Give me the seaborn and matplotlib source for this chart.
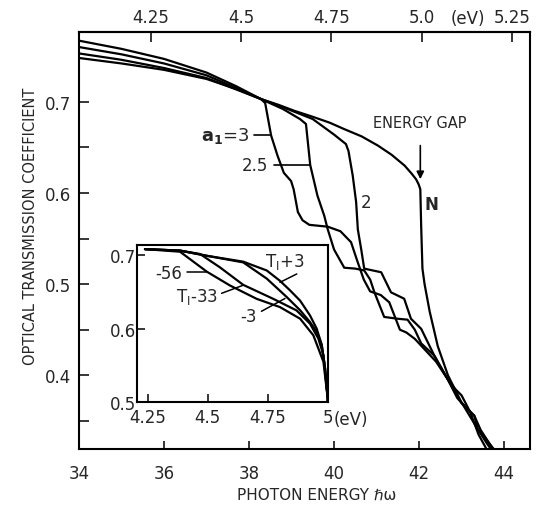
import numpy as np
import pandas as pd
import matplotlib
matplotlib.use("Agg")
import matplotlib.pyplot as plt
import matplotlib.transforms as mtransforms
import seaborn as sns

# ---------------- main panel data (photon energy, transmission) ----------------
x_a3 = [34, 35, 36, 37, 37.7, 38.28, 38.38, 38.52, 38.67, 38.82, 38.99, 39.05, 39.15,
        39.26, 39.42, 39.85, 40.15, 40.4, 40.55, 40.7, 40.85, 41.1, 41.3, 41.45, 41.55,
        41.7, 41.9, 42.1, 42.4, 42.67, 42.85, 43.0, 43.2, 43.4, 43.6, 43.75]
y_a3 = [0.767, 0.758, 0.747, 0.732, 0.717, 0.703, 0.6986, 0.663, 0.641, 0.622, 0.613, 0.604, 0.579,
        0.570, 0.565, 0.563, 0.558, 0.546, 0.525, 0.505, 0.492, 0.488, 0.480, 0.462, 0.450,
        0.447, 0.440, 0.430, 0.415, 0.396, 0.385, 0.378, 0.360, 0.335, 0.318, 0.305]

x_a25 = [34, 35, 36, 37, 37.7, 38.28, 38.8, 39.2, 39.34, 39.44, 39.61, 39.77, 39.85,
         40.0, 40.24, 40.5, 40.71, 40.85, 40.95, 41.18, 41.5, 41.73, 41.9, 42.05, 42.36,
         42.67, 42.9, 43.1, 43.3, 43.45, 43.69, 43.85]
y_a25 = [0.760, 0.752, 0.742, 0.729, 0.715, 0.703, 0.692, 0.681, 0.6756, 0.6306, 0.597, 0.575, 0.5604,
         0.538, 0.518, 0.517, 0.515, 0.505, 0.491, 0.464, 0.462, 0.461, 0.450, 0.435, 0.4215,
         0.396, 0.375, 0.365, 0.3557, 0.340, 0.3228, 0.31]

x_a2 = [34, 35, 36, 37, 37.7, 38.28, 38.8, 39.5, 40.0, 40.28, 40.34, 40.44, 40.52, 40.56,
        40.64, 40.71, 41.11, 41.34, 41.65, 41.81, 42.05, 42.36, 42.67, 42.99, 43.3, 43.38,
        43.6, 43.8, 43.95]
y_a2 = [0.753, 0.746, 0.737, 0.726, 0.7135, 0.703, 0.694, 0.681, 0.664, 0.6536, 0.646, 0.619, 0.590, 0.560,
        0.538, 0.517, 0.513, 0.491, 0.484, 0.462, 0.451, 0.4215, 0.396, 0.370, 0.3557, 0.341,
        0.325, 0.312, 0.305]

x_n = [34, 35, 36, 37, 37.7, 38.28, 38.7, 39.07, 39.5, 39.9, 40.24, 40.65, 41.03, 41.35,
       41.66, 41.82, 41.93, 41.99, 42.03, 42.05, 42.08, 42.13, 42.25, 42.44, 42.68, 42.99,
       43.38, 43.76, 43.95]
y_n = [0.748, 0.742, 0.735, 0.725, 0.714, 0.703, 0.6965, 0.690, 0.6835, 0.677, 0.670, 0.662, 0.652, 0.642,
       0.630, 0.6215, 0.615, 0.6095, 0.604, 0.564, 0.517, 0.500, 0.470, 0.432, 0.400, 0.371,
       0.341, 0.319, 0.310]

x_ticks = [34, 36, 38, 40, 42, 44]
y_ticks = [0.4, 0.5, 0.6, 0.7]
y_minor = [0.35, 0.45, 0.55, 0.65]
ev_ticks = [4.25, 4.5, 4.75, 5.0, 5.25]
ev_labels = ["4.25", "4.5", "4.75", "5.0", "5.25"]

# ---------------- inset data (eV, transmission) ----------------
e_p3 = [4.239, 4.385, 4.496, 4.648, 4.746, 4.801, 4.843, 4.885, 4.926, 4.954, 4.975, 4.989, 5.0, 5.0]
t_p3 = [0.708, 0.706, 0.699, 0.691, 0.679, 0.665, 0.652, 0.638, 0.618, 0.600, 0.578, 0.546, 0.505, 0.5]
e_m3 = [4.239, 4.385, 4.496, 4.648, 4.746, 4.829, 4.885, 4.926, 4.954, 4.975, 4.989, 5.0, 5.0]
t_m3 = [0.708, 0.706, 0.699, 0.690, 0.668, 0.643, 0.625, 0.609, 0.596, 0.578, 0.546, 0.505, 0.5]
e_m33 = [4.239, 4.385, 4.468, 4.551, 4.648, 4.773, 4.870, 4.926, 4.961, 4.982, 5.0, 5.0]
t_m33 = [0.708, 0.706, 0.7014, 0.6833, 0.6595, 0.6405, 0.6248, 0.6068, 0.5865, 0.564, 0.505, 0.5]
e_m56 = [4.239, 4.385, 4.496, 4.593, 4.704, 4.801, 4.885, 4.940, 4.982, 5.0, 5.0]
t_m56 = [0.708, 0.7045, 0.6775, 0.6586, 0.6405, 0.6293, 0.6135, 0.591, 0.555, 0.505, 0.5]

in_xticks = [4.25, 4.5, 4.75, 5.0]
in_xlabels = ["4.25", "4.5", "4.75", "5"]
in_yticks = [0.5, 0.6, 0.7]
in_ylabels = ["0.5", "0.6", "0.7"]

sns.set_theme(style="ticks")
plt.rcParams['font.family'] = ['DejaVu Sans']
plt.rcParams['axes.linewidth'] = 1.5

fig = plt.figure(figsize=(5.38, 5.10), dpi=100)
ax = fig.add_axes([0.1468, 0.1186, 0.8383, 0.8176])

main = pd.concat([
    pd.DataFrame({"x": x_a3, "y": y_a3, "c": "a3"}),
    pd.DataFrame({"x": x_a25, "y": y_a25, "c": "a25"}),
    pd.DataFrame({"x": x_a2, "y": y_a2, "c": "a2"}),
    pd.DataFrame({"x": x_n, "y": y_n, "c": "N"}),
])
for name, g in main.groupby("c", sort=False):
    sns.lineplot(data=g, x="x", y="y", ax=ax, color="black", lw=1.6,
                 estimator=None, sort=False, legend=False)

ax.set_xlim(34, 44.61)
ax.set_ylim(0.3197, 0.777)
ax.set_xticks(x_ticks)
ax.set_xticklabels([str(v) for v in x_ticks])
ax.set_yticks(y_ticks)
ax.set_yticklabels([f"{v:.1f}" for v in y_ticks])
ax.set_yticks(y_minor, minor=True)
ax.tick_params(axis="x", direction="in", length=6, width=1.3, labelsize=12, pad=11, top=False)
ax.tick_params(axis="y", direction="in", length=7, width=1.3, labelsize=12, pad=6, right=False)
ax.tick_params(axis="y", which="minor", direction="in", length=7, width=1.3, right=False)
for s in ax.spines.values():
    s.set_linewidth(1.5)
    s.set_color("black")
    s.set_visible(True)

ax.set_xlabel("PHOTON ENERGY ℏω", fontsize=11)
ax.xaxis.set_label_coords(0.527, -0.092)
ax.set_ylabel("OPTICAL TRANSMISSION COEFFICIENT", fontsize=10.5)
ax.yaxis.set_label_coords(-0.09, 0.535)

secax = ax.secondary_xaxis('top', functions=(lambda x: (x + 0.39) / 8.49,
                                              lambda e: 8.49 * e - 0.39))
secax.set_xticks(ev_ticks)
secax.set_xticklabels(ev_labels)
secax.tick_params(direction="in", length=7, width=1.3, labelsize=12, pad=4)
secax.spines["top"].set_linewidth(1.5)
trans_top = mtransforms.blended_transform_factory(ax.transData, ax.transAxes)
ax.text(43.16, 1.012, "(eV)", transform=trans_top, fontsize=12, ha="center", va="bottom")

# annotations
ax.text(42.02, 0.677, "ENERGY GAP", fontsize=10.5, ha="center", va="center")
ax.annotate("", xy=(42.03, 0.612), xytext=(42.03, 0.655),
            arrowprops=dict(arrowstyle="-|>", lw=1.2, color="black", mutation_scale=11))
ax.text(42.3, 0.588, "N", fontsize=12, fontweight="bold", ha="center", va="center")
ax.text(37.45, 0.663, r"$\mathbf{a_1}$=3", fontsize=13, ha="center", va="center")
ax.plot([38.12, 38.52], [0.663, 0.663], color="black", lw=1.2)
ax.text(38.14, 0.6306, "2.5", fontsize=12, ha="center", va="center")
ax.plot([38.58, 39.44], [0.6306, 0.6306], color="black", lw=1.2)
ax.text(40.75, 0.59, "2", fontsize=12, ha="center", va="center")

# ---------------- inset ----------------
axin = fig.add_axes([0.2552, 0.2092, 0.354, 0.309])
ins = pd.concat([
    pd.DataFrame({"x": e_p3, "y": t_p3, "c": "p3"}),
    pd.DataFrame({"x": e_m3, "y": t_m3, "c": "m3"}),
    pd.DataFrame({"x": e_m33, "y": t_m33, "c": "m33"}),
    pd.DataFrame({"x": e_m56, "y": t_m56, "c": "m56"}),
])
for name, g in ins.groupby("c", sort=False):
    sns.lineplot(data=g, x="x", y="y", ax=axin, color="black", lw=1.6,
                 estimator=None, sort=False, legend=False)
axin.set_xlim(4.207, 5.0)
axin.set_ylim(0.5, 0.714)
axin.set_xticks(in_xticks)
axin.set_xticklabels(in_xlabels)
axin.set_yticks(in_yticks)
axin.set_yticklabels(in_ylabels)
axin.tick_params(axis="x", direction="in", length=6, width=1.3, labelsize=12, pad=4)
axin.tick_params(axis="y", direction="in", length=6, width=1.3, labelsize=12, pad=1)
axin.set_xlabel("")
axin.set_ylabel("")
for s in axin.spines.values():
    s.set_linewidth(1.5)
    s.set_color("black")
axin.annotate("(eV)", xy=(1.0, 0.0), xycoords="axes fraction", xytext=(4, -5.5),
              textcoords="offset points", fontsize=12, ha="left", va="top")

axin.text(4.336, 0.675, "-56", fontsize=12, ha="center", va="center")
axin.plot([4.415, 4.496], [0.677, 0.677], color="black", lw=1.1)
axin.text(4.454, 0.645, r"T$_\mathrm{I}$-33", fontsize=12, ha="center", va="center")
axin.plot([4.558, 4.648], [0.648, 0.659], color="black", lw=1.1)
axin.text(4.822, 0.692, r"T$_\mathrm{I}$+3", fontsize=12, ha="center", va="center")
axin.plot([4.871, 4.801], [0.6743, 0.6629], color="black", lw=1.1)
axin.text(4.669, 0.617, "-3", fontsize=12, ha="center", va="center")
axin.plot([4.724, 4.822], [0.6236, 0.641], color="black", lw=1.1)

fig.savefig("out.png", dpi=100, facecolor="white")
